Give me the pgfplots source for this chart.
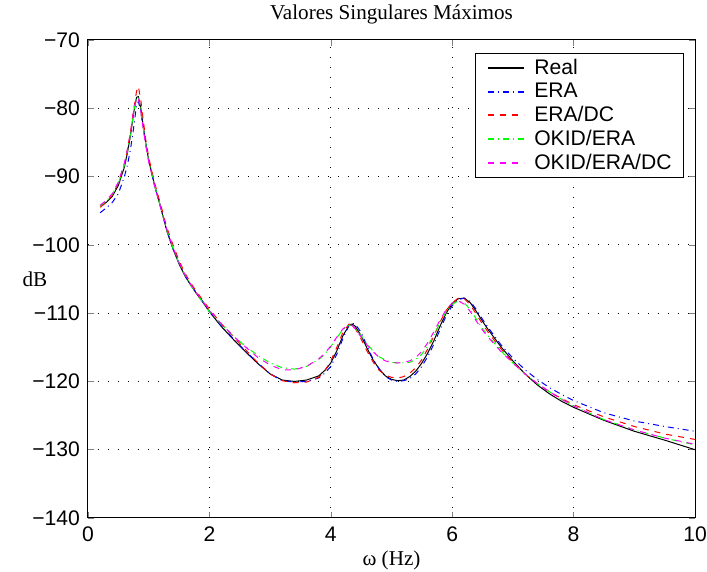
\documentclass[border=0pt]{standalone}
\usepackage{fontspec}
\setmainfont{Liberation Sans}
\newfontfamily\timesf{Liberation Serif}
\usepackage{pgfplots}
\pgfplotsset{compat=1.18}
\usetikzlibrary{calc}

\definecolor{mblue}{rgb}{0,0,1}
\definecolor{mred}{rgb}{1,0,0}
\definecolor{mgreen}{rgb}{0,1,0}
\definecolor{mmag}{rgb}{1,0,1}

\begin{document}
\begin{tikzpicture}
\begin{axis}[
  name=ax,
  scale only axis,
  width=303.5bp, height=239bp,
  xmin=0, xmax=10, ymin=-140, ymax=-70,
  xtick={0,2,4,6,8,10},
  xticklabels={0,2,4,6,8,10},
  ytick={-140,-130,-120,-110,-100,-90,-80,-70},
  yticklabels={−140,−130,−120,−110,−100,−90,−80,−70},
  tick label style={font=\fontsize{10.6}{12}\selectfont},
  xticklabel style={yshift=-1bp},
  yticklabel style={xshift=-0.5bp},
  tick align=inside,
  major tick length=3bp,
  axis line style={line width=0.5pt},
  grid=major,
  grid style={black, line width=0.5pt, dash pattern=on 0.5bp off 4.5bp},
  title={\timesf\fontsize{10.6}{12}\selectfont Valores Singulares Máximos},
  every axis title/.style={at={(0.5,1)}, anchor=center, yshift=13bp},
  xlabel={\timesf\fontsize{10.6}{12}\selectfont ω (Hz)},
  every axis x label/.style={at={(0.5,0)}, anchor=center, yshift=-21bp},
  ylabel={\timesf\fontsize{10.6}{12}\selectfont dB},
  every axis y label/.style={at={(0,0.5)}, anchor=center, xshift=-26.5bp},
  legend cell align=left,
  legend style={at={(1,1)}, anchor=north east, xshift=-5.5bp, yshift=-6.5bp,
    draw=black, font=\fontsize{10.6}{12}\selectfont,
    inner xsep=3bp, inner ysep=1.2bp, row sep=-0.4bp, column sep=0bp,
    nodes={inner xsep=3bp, inner ysep=1.6bp}},
  legend image code/.code={%
    \path (0bp,0bp) (23bp,0bp);
    \draw[#1, line width=0.9pt] (3bp,0bp) -- (21bp,0bp);},
  every axis plot/.append style={line width=0.5pt},
]
% Real
\addplot[draw=black] coordinates {
(0.2,-94.3) (0.3,-93.8) (0.4,-92.9) (0.5,-91.3) (0.6,-88.6) (0.65,-86.5)
(0.7,-84.0) (0.75,-80.8) (0.8,-78.4) (0.83,-78.3) (0.87,-80.0) (0.9,-82.0)
(0.95,-85.0) (1.0,-87.6) (1.1,-91.4) (1.2,-94.6) (1.3,-98.0) (1.4,-100.6)
(1.5,-102.8) (1.6,-104.6) (1.7,-106.0) (1.8,-107.3) (1.9,-108.5) (2.0,-109.8)
(2.2,-112.0) (2.4,-113.9) (2.6,-115.7) (2.8,-117.4) (3.0,-118.9) (3.2,-119.8)
(3.4,-120.0) (3.6,-119.8) (3.8,-119.2) (3.9,-118.4) (4.0,-117.3) (4.1,-115.5)
(4.2,-113.3) (4.3,-111.8) (4.35,-111.6) (4.4,-111.9) (4.5,-113.3) (4.6,-115.2)
(4.7,-116.9) (4.8,-118.2) (4.9,-119.2) (5.0,-119.7) (5.1,-119.9) (5.2,-119.8)
(5.3,-119.3) (5.4,-118.5) (5.5,-117.3) (5.6,-115.8) (5.7,-114.0) (5.8,-111.9)
(5.9,-110.0) (6.0,-108.6) (6.1,-107.9) (6.2,-107.8) (6.3,-108.5) (6.4,-109.8)
(6.5,-111.2) (6.6,-112.5) (6.8,-114.9) (7.0,-117.0) (7.2,-118.9) (7.4,-120.5)
(7.6,-121.8) (7.8,-122.9) (8.0,-123.8) (8.5,-125.7) (9.0,-127.3) (9.5,-128.6)
(10.0,-130.0)
};
\addlegendentry{Real}
% ERA
\addplot[draw=mblue, dash pattern=on 3bp off 2bp on 0.5bp off 2bp] coordinates {
(0.2,-95.3) (0.3,-94.6) (0.4,-93.8) (0.5,-92.5) (0.6,-90.0) (0.65,-88.3)
(0.7,-86.0) (0.75,-83.0) (0.8,-79.5) (0.83,-79.0) (0.87,-80.5) (0.9,-82.3)
(0.95,-85.2) (1.0,-87.7) (1.1,-91.4) (1.2,-94.6) (1.3,-97.9) (1.4,-100.5)
(1.5,-102.7) (1.6,-104.5) (1.7,-105.9) (1.8,-107.2) (1.9,-108.4) (2.0,-109.7)
(2.2,-111.9) (2.4,-113.8) (2.6,-115.6) (2.8,-117.3) (3.0,-118.9) (3.2,-119.9)
(3.4,-120.1) (3.6,-120.0) (3.8,-119.5) (3.9,-118.8) (4.0,-117.8) (4.1,-116.0)
(4.2,-113.7) (4.3,-111.8) (4.35,-111.5) (4.4,-111.6) (4.5,-112.8) (4.6,-114.9)
(4.7,-116.8) (4.8,-118.2) (4.9,-119.3) (5.0,-119.8) (5.1,-120.0) (5.2,-119.9)
(5.3,-119.6) (5.4,-118.9) (5.5,-117.8) (5.6,-116.3) (5.7,-114.5) (5.8,-112.4)
(5.9,-110.4) (6.0,-108.9) (6.1,-108.0) (6.2,-107.8) (6.3,-108.3) (6.4,-109.5)
(6.5,-110.9) (6.6,-112.2) (6.8,-114.6) (7.0,-116.6) (7.2,-118.3) (7.4,-119.7)
(7.6,-120.9) (7.8,-121.9) (8.0,-122.8) (8.5,-124.6) (9.0,-125.8) (9.5,-126.6)
(10.0,-127.3)
};
\addlegendentry{ERA}
% ERA/DC
\addplot[draw=mred, dash pattern=on 3bp off 3bp] coordinates {
(0.2,-94.5) (0.3,-93.8) (0.4,-92.7) (0.5,-91.0) (0.6,-88.2) (0.65,-86.0)
(0.7,-83.5) (0.75,-80.3) (0.8,-77.5) (0.83,-76.8) (0.87,-78.8) (0.9,-81.0)
(0.95,-84.5) (1.0,-87.2) (1.1,-91.0) (1.2,-94.2) (1.3,-97.5) (1.4,-100.0)
(1.5,-102.3) (1.6,-104.2) (1.7,-105.7) (1.8,-107.0) (1.9,-108.2) (2.0,-109.4)
(2.2,-111.6) (2.4,-113.5) (2.6,-115.4) (2.8,-117.3) (3.0,-118.9) (3.2,-119.9)
(3.4,-120.2) (3.6,-120.1) (3.8,-119.4) (3.9,-118.5) (4.0,-117.0) (4.1,-115.0)
(4.2,-112.8) (4.3,-111.6) (4.35,-111.6) (4.4,-112.2) (4.5,-113.8) (4.6,-115.6)
(4.7,-117.2) (4.8,-118.4) (4.9,-119.1) (5.0,-119.4) (5.1,-119.5) (5.2,-119.3)
(5.3,-118.8) (5.4,-118.0) (5.5,-116.8) (5.6,-115.2) (5.7,-113.3) (5.8,-111.3)
(5.9,-109.6) (6.0,-108.5) (6.1,-107.8) (6.2,-107.9) (6.3,-108.8) (6.4,-110.2)
(6.5,-111.6) (6.6,-112.9) (6.8,-115.2) (7.0,-117.2) (7.2,-118.9) (7.4,-120.3)
(7.6,-121.5) (7.8,-122.5) (8.0,-123.4) (8.5,-125.2) (9.0,-126.6) (9.5,-127.7)
(10.0,-128.5)
};
\addlegendentry{ERA/DC}
% OKID/ERA
\addplot[draw=mgreen, dash pattern=on 3bp off 2bp on 0.5bp off 2bp] coordinates {
(0.2,-94.3) (0.3,-93.6) (0.4,-92.6) (0.5,-91.0) (0.6,-88.3) (0.65,-86.2)
(0.7,-83.8) (0.75,-80.6) (0.8,-78.3) (0.83,-78.5) (0.87,-80.3) (0.9,-82.3)
(0.95,-85.2) (1.0,-87.7) (1.1,-91.4) (1.2,-94.6) (1.3,-97.9) (1.4,-100.5)
(1.5,-102.7) (1.6,-104.5) (1.7,-106.0) (1.8,-107.3) (1.9,-108.5) (2.0,-109.8)
(2.2,-111.7) (2.4,-113.4) (2.6,-114.9) (2.8,-116.2) (3.0,-117.3) (3.2,-118.0)
(3.4,-118.2) (3.6,-117.8) (3.8,-116.8) (3.9,-116.0) (4.0,-114.9) (4.1,-113.6)
(4.2,-112.4) (4.3,-111.8) (4.35,-111.8) (4.4,-112.2) (4.5,-113.3) (4.6,-114.5)
(4.7,-115.6) (4.8,-116.4) (4.9,-116.9) (5.0,-117.2) (5.1,-117.3) (5.2,-117.3)
(5.3,-117.2) (5.4,-116.8) (5.5,-116.0) (5.6,-114.8) (5.7,-113.2) (5.8,-111.4)
(5.9,-109.8) (6.0,-108.7) (6.1,-108.2) (6.2,-108.5) (6.3,-109.5) (6.4,-110.9)
(6.5,-112.3) (6.6,-113.4) (6.8,-115.5) (7.0,-117.3) (7.2,-118.9) (7.4,-120.3)
(7.6,-121.5) (7.8,-122.6) (8.0,-123.6) (8.5,-125.6) (9.0,-127.1) (9.5,-128.3)
(10.0,-129.3)
};
\addlegendentry{OKID/ERA}
% OKID/ERA/DC
\addplot[draw=mmag, dash pattern=on 3bp off 3bp] coordinates {
(0.2,-94.2) (0.3,-93.5) (0.4,-92.5) (0.5,-90.8) (0.6,-88.0) (0.65,-86.0)
(0.7,-83.6) (0.75,-80.5) (0.8,-78.3) (0.83,-78.6) (0.87,-80.5) (0.9,-82.4)
(0.95,-85.3) (1.0,-87.8) (1.1,-91.5) (1.2,-94.6) (1.3,-97.8) (1.4,-100.4)
(1.5,-102.6) (1.6,-104.4) (1.7,-105.9) (1.8,-107.2) (1.9,-108.4) (2.0,-109.6)
(2.2,-111.6) (2.4,-113.4) (2.6,-115.0) (2.8,-116.5) (3.0,-117.6) (3.2,-118.3)
(3.4,-118.3) (3.6,-117.8) (3.8,-116.7) (3.9,-115.9) (4.0,-114.8) (4.1,-113.5)
(4.2,-112.3) (4.3,-111.7) (4.35,-111.8) (4.4,-112.3) (4.5,-113.5) (4.6,-114.7)
(4.7,-115.7) (4.8,-116.5) (4.9,-117.0) (5.0,-117.2) (5.1,-117.3) (5.2,-117.2)
(5.3,-117.0) (5.4,-116.5) (5.5,-115.6) (5.6,-114.3) (5.7,-112.7) (5.8,-111.0)
(5.9,-109.5) (6.0,-108.5) (6.1,-108.2) (6.2,-108.7) (6.3,-109.8) (6.4,-111.2)
(6.5,-112.5) (6.6,-113.6) (6.8,-115.6) (7.0,-117.3) (7.2,-118.9) (7.4,-120.3)
(7.6,-121.5) (7.8,-122.6) (8.0,-123.6) (8.5,-125.6) (9.0,-127.1) (9.5,-128.3)
(10.0,-129.2)
};
\addlegendentry{OKID/ERA/DC}
\end{axis}
\pgfresetboundingbox
\useasboundingbox ($(ax.south west)+(-44bp,-27bp)$) rectangle ($(ax.north east)+(6bp,20bp)$);
\end{tikzpicture}
\end{document}
